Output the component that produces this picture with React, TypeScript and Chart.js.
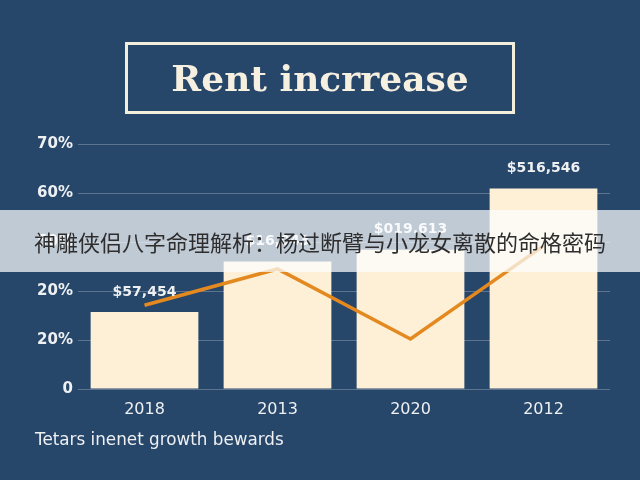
import React, { useEffect, useRef } from "react";
import { Chart, registerables } from "chart.js";

Chart.register(...registerables);

const categories = ["2018", "2013", "2020", "2012"];
const barValues = [1.57, 2.6, 2.84, 4.09];
const lineValues = [1.71, 2.45, 1.02, 2.92];
const barLabels = ["$57,454", "$16,043", "$019.613", "$516,546"];
const yTickLabels = ["0", "20%", "20%", "50%", "60%", "70%"];

const titleText = "Rent incrrease";
const captionText = "Tetars inenet growth bewards";
const bannerText = "神雕侠侣八字命理解析：杨过断臂与小龙女离散的命格密码";

const BG = "#26466a";
const CREAM = "#fdf0d6";
const ORANGE = "#e3891f";
const TEXT = "#eef0f2";

export default function App() {
  const canvasRef = useRef<HTMLCanvasElement | null>(null);

  useEffect(() => {
    const canvas = canvasRef.current;
    if (!canvas) return;

    const labelPlugin = {
      id: "barValueLabels",
      afterDatasetsDraw(chart: any) {
        const meta = chart.getDatasetMeta(1);
        const ctx = chart.ctx;
        ctx.save();
        ctx.font = "bold 14px 'DejaVu Sans', sans-serif";
        ctx.fillStyle = TEXT;
        ctx.textAlign = "center";
        ctx.textBaseline = "middle";
        meta.data.forEach((el: any, i: number) => {
          ctx.fillText(barLabels[i], el.x, el.y - 20);
        });
        ctx.restore();
      },
    };

    const chart = new Chart(canvas, {
      type: "bar",
      data: {
        labels: categories,
        datasets: [
          {
            type: "line",
            label: "Growth",
            data: lineValues,
            borderColor: ORANGE,
            borderWidth: 3.5,
            pointRadius: 0,
            tension: 0,
            fill: false,
            order: 0,
          } as any,
          {
            type: "bar",
            label: "Rent",
            data: barValues,
            backgroundColor: CREAM,
            borderWidth: 0,
            barPercentage: 0.81,
            categoryPercentage: 1,
            order: 1,
          },
        ],
      },
      options: {
        animation: false,
        responsive: false,
        maintainAspectRatio: false,
        layout: { padding: { top: 144, right: 30, bottom: 0, left: 0 } },
        plugins: {
          legend: { display: false },
          tooltip: { enabled: false },
          title: { display: false },
        },
        scales: {
          x: {
            grid: { display: false, drawTicks: false },
            border: { display: false },
            ticks: {
              color: TEXT,
              padding: 11,
              font: { family: "'DejaVu Sans', sans-serif", size: 16 },
            },
            afterFit: (s: any) => {
              s.height = 91;
            },
          },
          y: {
            min: 0,
            max: 5,
            grid: {
              color: "rgba(255,255,255,0.25)",
              lineWidth: 1,
              drawTicks: false,
            },
            border: { display: false },
            ticks: {
              stepSize: 1,
              color: TEXT,
              padding: 5,
              font: { family: "'DejaVu Sans', sans-serif", size: 15, weight: "bold" as any },
              callback: (v: any) => yTickLabels[Number(v)] ?? "",
            },
            afterFit: (s: any) => {
              s.width = 78;
            },
          },
        },
      },
      plugins: [labelPlugin],
    });

    return () => chart.destroy();
  }, []);

  return (
    <div
      style={{
        position: "fixed",
        left: 0,
        top: 0,
        width: 640,
        height: 480,
        background: BG,
        overflow: "hidden",
      }}
    >
      <canvas
        ref={canvasRef}
        width={640}
        height={480}
        style={{ position: "absolute", left: 0, top: 0, width: 640, height: 480 }}
      />
      <div
        style={{
          position: "absolute",
          left: 125,
          top: 42,
          width: 390,
          height: 72,
          boxSizing: "border-box",
          border: "3px solid #f4eedc",
          display: "flex",
          alignItems: "center",
          justifyContent: "center",
          color: "#f6f0e0",
          fontFamily: "'DejaVu Serif', serif",
          fontWeight: 700,
          fontSize: 36,
          lineHeight: 1,
        }}
      >
        {titleText}
      </div>
      <div
        style={{
          position: "absolute",
          left: 35,
          top: 428,
          color: TEXT,
          fontFamily: "'DejaVu Sans', sans-serif",
          fontSize: 16.8,
          lineHeight: "22px",
          whiteSpace: "nowrap",
        }}
      >
        {captionText}
      </div>
      <div
        style={{
          position: "absolute",
          left: 0,
          top: 210,
          width: 640,
          height: 62,
          background: "rgba(252,253,255,0.72)",
          display: "flex",
          alignItems: "center",
          justifyContent: "center",
          color: "#2e2e2e",
          fontFamily: "'Noto Sans CJK SC', sans-serif",
          fontSize: 22,
          whiteSpace: "nowrap",
        }}
      >
        {bannerText}
      </div>
    </div>
  );
}
